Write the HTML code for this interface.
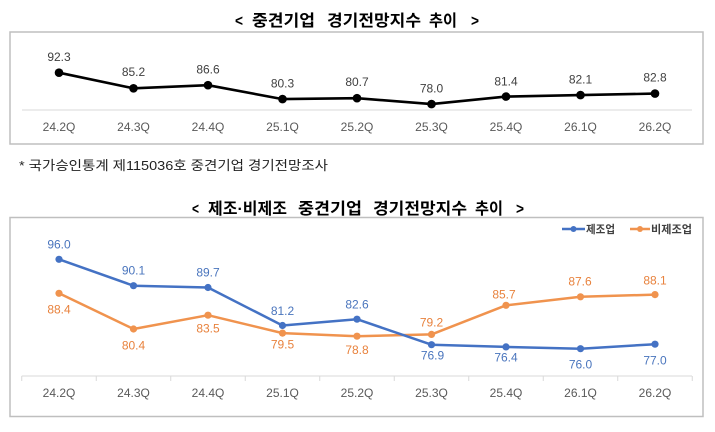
<!DOCTYPE html>
<html>
<head>
<meta charset="utf-8">
<style>
html,body{margin:0;padding:0;background:#fff;}
svg{display:block;}
</style>
</head>
<body>
<svg width="715" height="432" viewBox="0 0 715 432" xmlns="http://www.w3.org/2000/svg">
<rect width="715" height="432" fill="#fff"/>

<!-- Title 1 -->
<g font-family="'Liberation Sans','Noto Sans CJK KR','NanumGothic',sans-serif" font-weight="bold" font-size="16" fill="#000">
<text x="235" y="26" textLength="8" lengthAdjust="spacingAndGlyphs">&lt;</text>
<text x="252" y="26" textLength="63" lengthAdjust="spacingAndGlyphs">중견기업</text>
<text x="327" y="26" textLength="94" lengthAdjust="spacingAndGlyphs">경기전망지수</text>
<text x="429" y="26" textLength="28" lengthAdjust="spacingAndGlyphs">추이</text>
<text x="471" y="26" textLength="8" lengthAdjust="spacingAndGlyphs">&gt;</text>
</g>

<!-- Box 1 -->
<rect x="10" y="32" width="693" height="112" fill="#fff" stroke="#bfbfbf" stroke-width="1.5"/>
<line x1="22" y1="110" x2="692" y2="110" stroke="#d9d9d9" stroke-width="1"/>

<polyline fill="none" stroke="#000" stroke-width="2.6" stroke-linejoin="round"
points="59,72.7 133.5,88.3 208,85.2 282.5,99.1 357,98.2 431.5,104.1 506,96.6 580.5,95.1 655,93.6"/>
<g fill="#000">
<circle cx="59" cy="72.7" r="4.3"/><circle cx="133.5" cy="88.3" r="4.3"/><circle cx="208" cy="85.2" r="4.3"/>
<circle cx="282.5" cy="99.1" r="4.3"/><circle cx="357" cy="98.2" r="4.3"/><circle cx="431.5" cy="104.1" r="4.3"/>
<circle cx="506" cy="96.6" r="4.3"/><circle cx="580.5" cy="95.1" r="4.3"/><circle cx="655" cy="93.6" r="4.3"/>
</g>
<g font-family="'Liberation Sans',sans-serif" font-size="12" fill="#404040" text-anchor="middle">
<text x="59" y="61">92.3</text>
<text x="133.5" y="76">85.2</text>
<text x="208" y="73.5">86.6</text>
<text x="282.5" y="87.5">80.3</text>
<text x="357" y="86">80.7</text>
<text x="431.5" y="92.5">78.0</text>
<text x="506" y="85.3">81.4</text>
<text x="580.5" y="83.6">82.1</text>
<text x="655" y="81.6">82.8</text>
</g>
<g font-family="'Liberation Sans',sans-serif" font-size="12" fill="#595959" text-anchor="middle">
<text x="59" y="131">24.2Q</text>
<text x="133.5" y="131">24.3Q</text>
<text x="208" y="131">24.4Q</text>
<text x="282.5" y="131">25.1Q</text>
<text x="357" y="131">25.2Q</text>
<text x="431.5" y="131">25.3Q</text>
<text x="506" y="131">25.4Q</text>
<text x="580.5" y="131">26.1Q</text>
<text x="655" y="131">26.2Q</text>
</g>

<!-- Note -->
<text x="19" y="170" font-family="'Liberation Sans','Noto Sans CJK KR','NanumGothic',sans-serif" font-size="13" fill="#222" textLength="309" lengthAdjust="spacingAndGlyphs">* 국가승인통계 제115036호 중견기업 경기전망조사</text>

<!-- Title 2 -->
<g font-family="'Liberation Sans','Noto Sans CJK KR','NanumGothic',sans-serif" font-weight="bold" font-size="16" fill="#000">
<text x="192" y="214" textLength="7" lengthAdjust="spacingAndGlyphs">&lt;</text>
<text x="208" y="214" textLength="79" lengthAdjust="spacingAndGlyphs">제조·비제조</text>
<text x="298" y="214" textLength="64" lengthAdjust="spacingAndGlyphs">중견기업</text>
<text x="373" y="214" textLength="94" lengthAdjust="spacingAndGlyphs">경기전망지수</text>
<text x="475" y="214" textLength="28" lengthAdjust="spacingAndGlyphs">추이</text>
<text x="516" y="214" textLength="8" lengthAdjust="spacingAndGlyphs">&gt;</text>
</g>

<!-- Box 2 -->
<rect x="10" y="217.5" width="693" height="199" fill="#fff" stroke="#bfbfbf" stroke-width="1.5"/>
<line x1="21.75" y1="376" x2="692" y2="376" stroke="#d9d9d9" stroke-width="1"/>
<g stroke="#d9d9d9" stroke-width="1">
<line x1="21.75" y1="376" x2="21.75" y2="381"/>
<line x1="96.25" y1="376" x2="96.25" y2="381"/>
<line x1="170.75" y1="376" x2="170.75" y2="381"/>
<line x1="245.25" y1="376" x2="245.25" y2="381"/>
<line x1="319.75" y1="376" x2="319.75" y2="381"/>
<line x1="394.25" y1="376" x2="394.25" y2="381"/>
<line x1="468.75" y1="376" x2="468.75" y2="381"/>
<line x1="543.25" y1="376" x2="543.25" y2="381"/>
<line x1="617.75" y1="376" x2="617.75" y2="381"/>
<line x1="692.25" y1="376" x2="692.25" y2="381"/>
</g>

<!-- Legend -->
<line x1="562" y1="229" x2="585" y2="229" stroke="#4472C4" stroke-width="2.5"/>
<circle cx="573.5" cy="229" r="3" fill="#4472C4"/>
<text x="586" y="233" font-family="'Liberation Sans','Noto Sans CJK KR','NanumGothic',sans-serif" font-size="11" font-weight="bold" fill="#404040" textLength="29" lengthAdjust="spacingAndGlyphs">제조업</text>
<line x1="630" y1="229" x2="650" y2="229" stroke="#F0934E" stroke-width="2.5"/>
<circle cx="640" cy="229" r="3" fill="#F0934E"/>
<text x="651" y="233" font-family="'Liberation Sans','Noto Sans CJK KR','NanumGothic',sans-serif" font-size="11" font-weight="bold" fill="#404040" textLength="41" lengthAdjust="spacingAndGlyphs">비제조업</text>

<!-- Orange series -->
<polyline fill="none" stroke="#F0934E" stroke-width="2.5" stroke-linejoin="round"
points="59,293.3 133.5,329 208,315.2 282.5,333.1 357,336.2 431.5,334.4 506,305.3 580.5,296.8 655,294.6"/>
<g fill="#F0934E">
<circle cx="59" cy="293.3" r="3.6"/><circle cx="133.5" cy="329" r="3.6"/><circle cx="208" cy="315.2" r="3.6"/>
<circle cx="282.5" cy="333.1" r="3.6"/><circle cx="357" cy="336.2" r="3.6"/><circle cx="431.5" cy="334.4" r="3.6"/>
<circle cx="506" cy="305.3" r="3.6"/><circle cx="580.5" cy="296.8" r="3.6"/><circle cx="655" cy="294.6" r="3.6"/>
</g>

<!-- Blue series -->
<polyline fill="none" stroke="#4472C4" stroke-width="2.5" stroke-linejoin="round"
points="59,259.3 133.5,285.7 208,287.5 282.5,325.5 357,319.2 431.5,344.7 506,346.9 580.5,348.7 655,344.2"/>
<g fill="#4472C4">
<circle cx="59" cy="259.3" r="3.6"/><circle cx="133.5" cy="285.7" r="3.6"/><circle cx="208" cy="287.5" r="3.6"/>
<circle cx="282.5" cy="325.5" r="3.6"/><circle cx="357" cy="319.2" r="3.6"/><circle cx="431.5" cy="344.7" r="3.6"/>
<circle cx="506" cy="346.9" r="3.6"/><circle cx="580.5" cy="348.7" r="3.6"/><circle cx="655" cy="344.2" r="3.6"/>
</g>

<!-- Blue labels -->
<g font-family="'Liberation Sans',sans-serif" font-size="12" fill="#4A75BD" text-anchor="middle">
<text x="59" y="248.3">96.0</text>
<text x="133.5" y="274.3">90.1</text>
<text x="208" y="276.3">89.7</text>
<text x="282.5" y="314.8">81.2</text>
<text x="357" y="308.3">82.6</text>
<text x="432.5" y="359.3">76.9</text>
<text x="506" y="361.3">76.4</text>
<text x="580.5" y="368.3">76.0</text>
<text x="655" y="364.3">77.0</text>
</g>

<!-- Orange labels -->
<g font-family="'Liberation Sans',sans-serif" font-size="12" fill="#E8823D" text-anchor="middle">
<text x="59" y="313.3">88.4</text>
<text x="133.5" y="349.3">80.4</text>
<text x="208" y="332.3">83.5</text>
<text x="282.5" y="348.3">79.5</text>
<text x="357" y="353.8">78.8</text>
<text x="431.5" y="326.3">79.2</text>
<text x="504" y="298.3">85.7</text>
<text x="580" y="285.3">87.6</text>
<text x="655" y="284.3">88.1</text>
</g>

<!-- Axis labels -->
<g font-family="'Liberation Sans',sans-serif" font-size="12" fill="#595959" text-anchor="middle">
<text x="59" y="397">24.2Q</text>
<text x="133.5" y="397">24.3Q</text>
<text x="208" y="397">24.4Q</text>
<text x="282.5" y="397">25.1Q</text>
<text x="357" y="397">25.2Q</text>
<text x="431.5" y="397">25.3Q</text>
<text x="506" y="397">25.4Q</text>
<text x="580.5" y="397">26.1Q</text>
<text x="655" y="397">26.2Q</text>
</g>
</svg>
</body>
</html>
